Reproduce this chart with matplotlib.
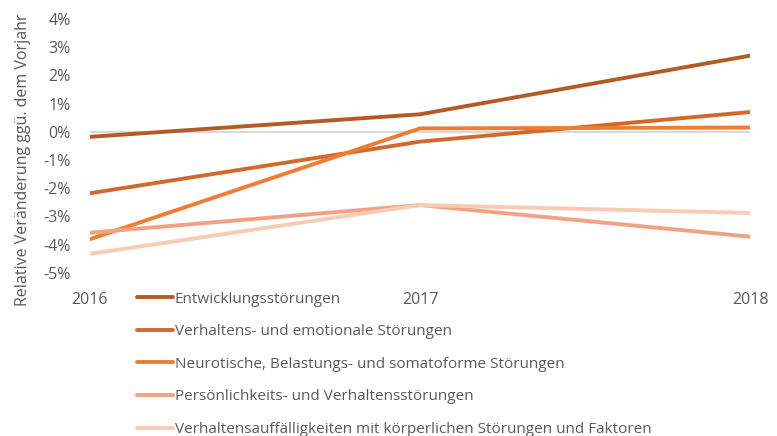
import numpy as np
import matplotlib
matplotlib.use("Agg")
import matplotlib.pyplot as plt
from matplotlib.ticker import FuncFormatter

plt.rcParams['font.family'] = ['Open Sans', 'DejaVu Sans']

years = [2016, 2017, 2018]
labels = ["Entwicklungsstörungen",
          "Verhaltens- und emotionale Störungen",
          "Neurotische, Belastungs- und somatoforme Störungen",
          "Persönlichkeits- und Verhaltensstörungen",
          "Verhaltensauffälligkeiten mit körperlichen Störungen und Faktoren"]
entwicklung = [-0.18, 0.62, 2.70]
verhalten_emo = [-2.18, -0.35, 0.70]
neurotisch = [-3.81, 0.12, 0.15]
persoenlichkeit = [-3.58, -2.60, -3.72]
koerperlich = [-4.33, -2.60, -2.88]
series = [entwicklung, verhalten_emo, neurotisch, persoenlichkeit, koerperlich]
colors = ["#B35A27", "#D0692B", "#ED7D31", "#F2A284", "#F8CBB6"]

grey = "#595959"

fig = plt.figure(figsize=(7.77, 4.36), dpi=100)
ax = fig.add_axes([0.1158, 0.3745, 0.8495, 0.5819])

ax.axhline(0, color="#d9d9d9", lw=1.5, zorder=1)
handles = []
for vals, lab, c in zip(series, labels, colors):
    h, = ax.plot(years, vals, color=c, lw=2.8, label=lab, solid_capstyle="round", zorder=3)
    handles.append(h)

ax.set_xlim(2016, 2018)
ax.set_ylim(-5, 4)
ax.set_yticks(np.arange(-5, 5, 1))
ax.yaxis.set_major_formatter(FuncFormatter(lambda v, p: f"{v:.0f}%"))
ax.set_xticks(years)
ax.set_xticklabels([str(y) for y in years])
for s in ax.spines.values():
    s.set_visible(False)
ax.tick_params(axis="both", length=0, labelsize=11.5, labelcolor=grey)
ax.tick_params(axis="x", pad=14)
ax.tick_params(axis="y", pad=14)

ax.set_ylabel("Relative Veränderung ggü. dem Vorjahr", fontsize=11.5, color=grey)
ax.yaxis.set_label_coords(-0.09, 0.444)

leg = fig.legend(handles=handles, loc="upper left", bbox_to_anchor=(0.169, 0.345),
                 frameon=False, fontsize=11, labelcolor=grey, handlelength=2.35,
                 handletextpad=0.1, labelspacing=1.15, borderaxespad=0)

fig.savefig("out.png", dpi=100)
